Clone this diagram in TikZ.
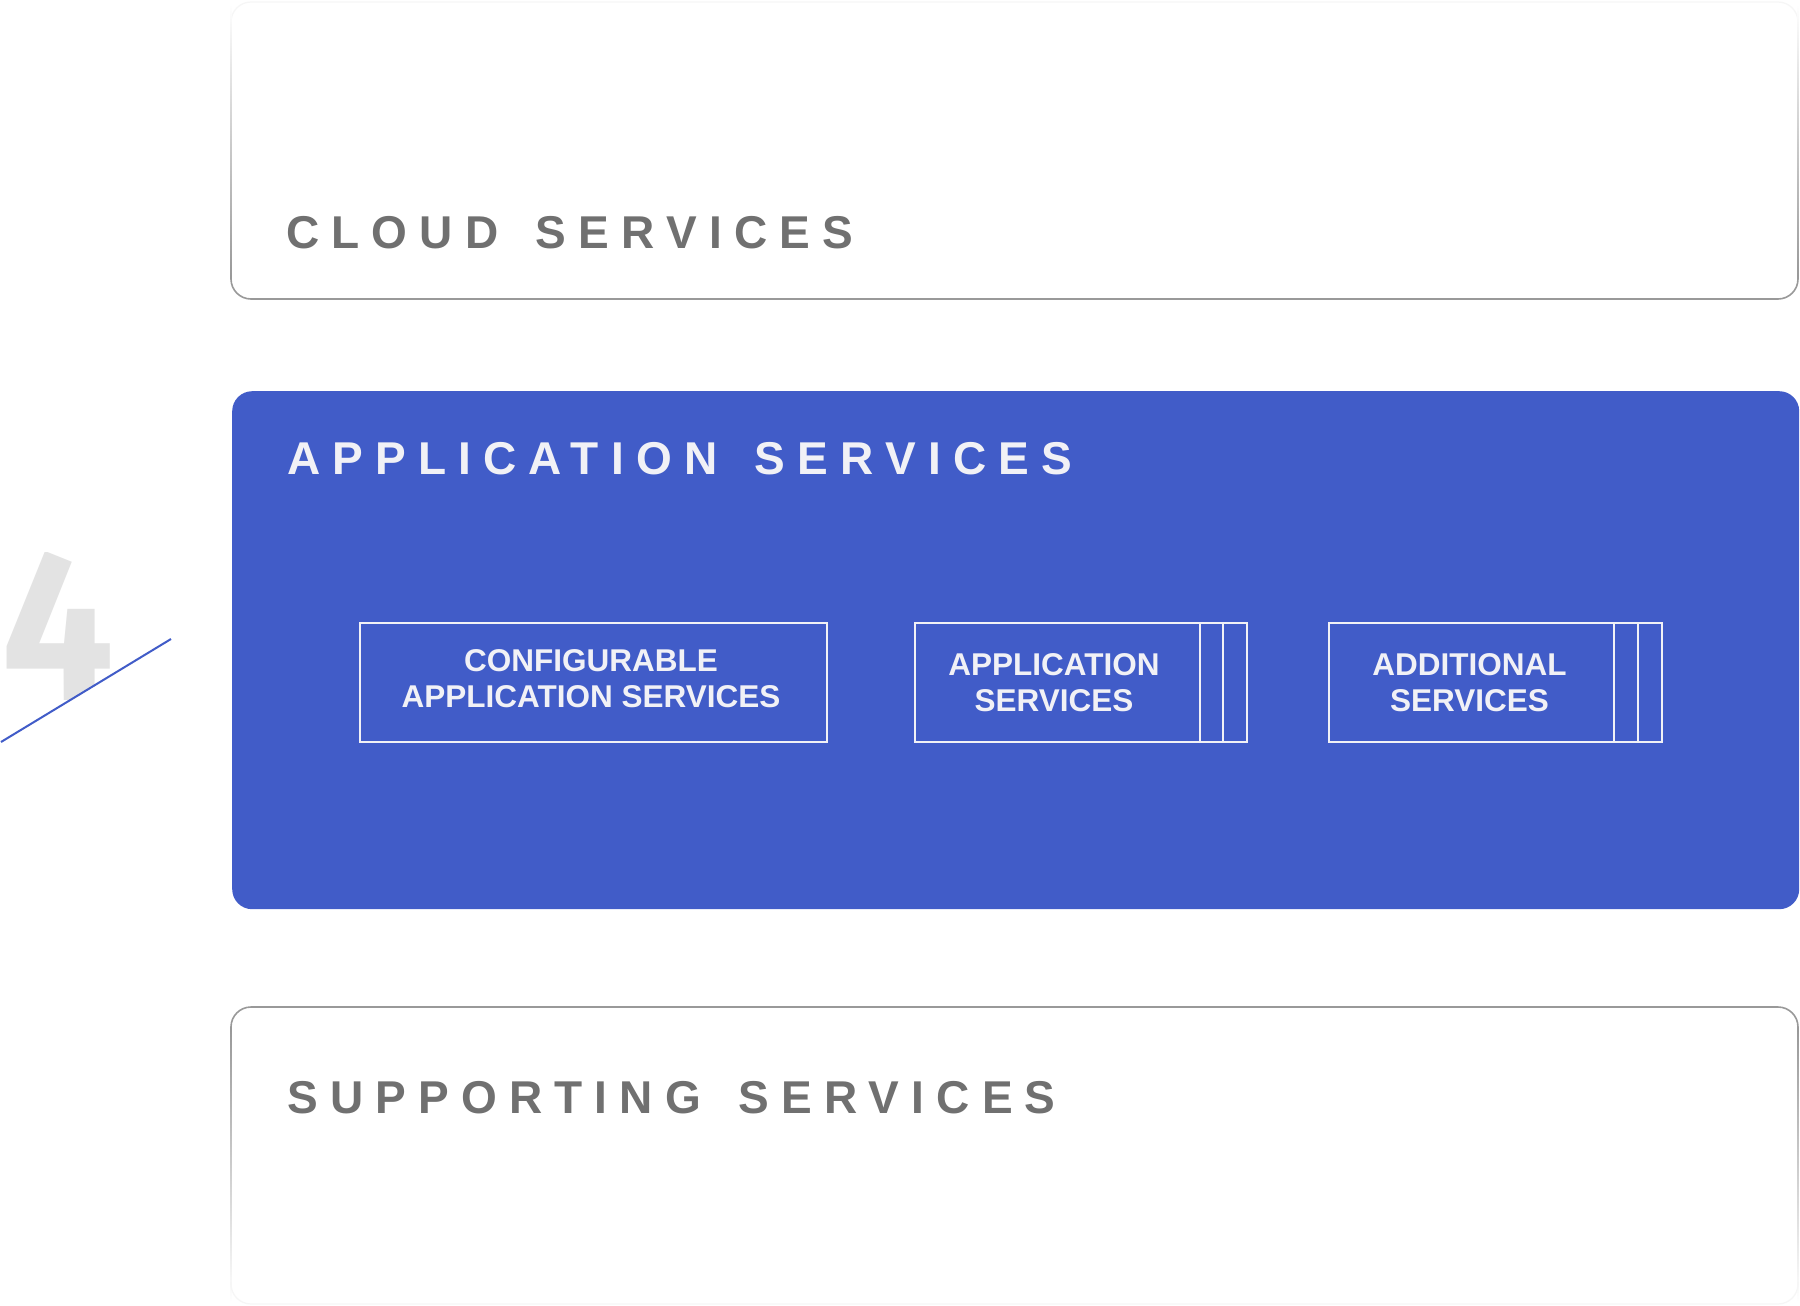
\documentclass[tikz,border=0pt]{standalone}
\usepackage{fontspec}
\setmainfont{Liberation Sans}
\newfontfamily\headfont{Liberation Sans}[LetterSpace=26.5, WordSpace=1.5]
\newfontfamily\digitfont{Fira Sans}
\definecolor{appblue}{HTML}{415CC8}
\definecolor{txtgray}{HTML}{707070}
\definecolor{boxgray}{HTML}{999999}
\definecolor{lighttxt}{HTML}{F1F1F6}
\definecolor{digitgray}{HTML}{E3E3E3}
\definecolor{fadegray}{HTML}{F6F6F6}
\tikzset{
  headtext/.style={inner sep=0pt, anchor=base west, font=\headfont\bfseries\fontsize{46}{50}\selectfont},
  subbox/.style={draw=lighttxt, line width=2pt, inner sep=0pt, minimum height=119pt},
  boxtext/.style={inner sep=0pt, align=center, text=lighttxt, font=\bfseries\fontsize{31.5}{36}\selectfont},
  edgeline/.style={boxgray, line width=1.6pt},
}
\begin{document}
\begin{tikzpicture}[x=1pt,y=-1pt]
\useasboundingbox[fill=white] (0,0) rectangle (1800,1306);

% ---- number 4 with slanted line
\coordinate (slashA) at (1,742);
\coordinate (slashB) at (171,639);
\begin{scope}
  \clip (-10,552) -- (300,552) -- (300,562.3) -- (-10,748.5) -- cycle;
  \node[inner sep=0pt, anchor=base west, text=digitgray, xscale=0.93, font=\digitfont\bfseries\fontsize{215}{215}\selectfont] (bignum) at (1,700) {4};
\end{scope}
\draw[appblue, line width=2pt] (slashA) -- (slashB);

% ---- cloud services panel
\node[inner sep=0pt, minimum width=1567pt, minimum height=297pt, anchor=north west] (cloudpanel) at (231,2) {};
\draw[fadegray, line width=1.2pt, rounded corners=20pt] (231,24) -- (231,2) -- (1798,2) -- (1798,24);
\shade[top color=white, bottom color=boxgray] (230.2,4) rectangle (231.8,276);
\shade[top color=white, bottom color=boxgray] (1797.2,4) rectangle (1798.8,276);
\draw[edgeline, rounded corners=20pt] (231,275) -- (231,299) -- (1798,299) -- (1798,275);
\node[headtext, text=txtgray] (cloudtitle) at (286,248) {CLOUD SERVICES};

% ---- application services panel
\node[fill=appblue, rounded corners=20pt, inner sep=0pt, minimum width=1567pt, minimum height=518pt, anchor=north west] (apppanel) at (232,391) {};
\node[headtext, text=lighttxt] (apptitle) at (287,474) {APPLICATION SERVICES};

\node[subbox, minimum width=467pt] (confbox) at (593.5,682.5) {};
\node[boxtext] (conftext) at (591,678.6) {CONFIGURABLE\\APPLICATION SERVICES};

\node[subbox, minimum width=332pt] (appbox) at (1081,682.5) {};
\draw[lighttxt, line width=2pt] (1200,623) -- (1200,742) (1223,623) -- (1223,742);
\node[boxtext] (apptext) at (1054,682.7) {APPLICATION\\SERVICES};

\node[subbox, minimum width=333pt] (addbox) at (1495.5,682.5) {};
\draw[lighttxt, line width=2pt] (1614,623) -- (1614,742) (1638,623) -- (1638,742);
\node[boxtext] (addtext) at (1469.5,682.7) {ADDITIONAL\\SERVICES};

% ---- supporting services panel
\node[inner sep=0pt, minimum width=1567pt, minimum height=297pt, anchor=north west] (supppanel) at (231,1007) {};
\draw[edgeline, rounded corners=20pt] (231,1031) -- (231,1007) -- (1798,1007) -- (1798,1031);
\shade[top color=boxgray, bottom color=white] (230.2,1030) rectangle (231.8,1302);
\shade[top color=boxgray, bottom color=white] (1797.2,1030) rectangle (1798.8,1302);
\draw[fadegray, line width=1.2pt, rounded corners=20pt] (231,1282) -- (231,1304) -- (1798,1304) -- (1798,1282);
\node[headtext, text=txtgray] (supptitle) at (287,1113) {SUPPORTING SERVICES};
\end{tikzpicture}
\end{document}
